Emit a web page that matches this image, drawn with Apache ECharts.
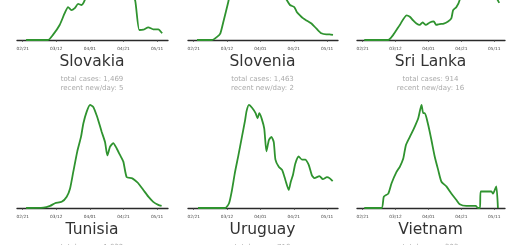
<!DOCTYPE html>
<html>
<head>
<meta charset="utf-8">
<script src="https://cdn.jsdelivr.net/npm/echarts@6/dist/echarts.min.js"></script>
<style>
html,body{margin:0;padding:0;background:#fff;}
#c{width:520px;height:245px;}
</style>
</head>
<body>
<div id="c"></div>
<script>
// x values are days after 02/21; y values are new cases per day as a fraction of each country's peak
const tickDays = [0, 20, 40, 60, 80];
const tickLabels = ['02/21', '03/12', '04/01', '04/21', '05/11'];
const countries = ['Slovakia', 'Slovenia', 'Sri Lanka', 'Tunisia', 'Uruguay', 'Vietnam'];
const totalCases = ['1,469', '1,463', '914', '1,032', '710', '323'];
const recentNewPerDay = ['5', '2', '16', '0', '4', '0'];

const slovakiaDays = [2,15,18,22,25,27,29,31,33,35,37,39,41,43,45,47,49,51,53,55,57,59,61,63,65,67,69.4,71.8,74.8,77.7,80.7,83];
const slovakiaVals = [0,0,0.05,0.146,0.26,0.32,0.29,0.31,0.35,0.34,0.39,0.5,0.7,0.85,0.95,1.0,0.92,0.85,0.8,0.72,0.65,0.6,0.55,0.5,0.45,0.38,0.097,0.10,0.123,0.104,0.104,0.065];

const sloveniaDays = [2,11,14,16,18,20,21,22,24,26,28,30,33,36,39,42,45,48,51,54,55.7,57.7,60.3,61.7,63.7,65.7,67.6,70.6,73.6,76.5,79.5,81.5,83.5];
const sloveniaVals = [0,0,0.03,0.065,0.19,0.32,0.39,0.5,0.75,0.9,1.0,0.97,0.9,0.85,0.8,0.72,0.65,0.58,0.5,0.43,0.39,0.34,0.32,0.275,0.24,0.21,0.19,0.16,0.11,0.065,0.055,0.055,0.05];

const sriLankaDays = [1,15.5,18.6,22.6,26.7,28.7,30.7,32.7,34.7,36.4,38.4,40.8,43.2,44.8,46.8,49.3,51.9,53.9,55,57,59,61,63,65,67,69,71,73,75,77,79,81,83];
const sriLankaVals = [0,0,0.05,0.146,0.24,0.226,0.19,0.16,0.146,0.17,0.146,0.17,0.18,0.146,0.155,0.16,0.18,0.21,0.29,0.32,0.39,0.6,0.85,1.0,0.95,0.85,0.8,0.7,0.65,0.6,0.5,0.42,0.36];

const tunisiaDays = [2,12.3,16.3,19.2,23.2,26.2,28.2,30.1,32.5,34.7,36.1,38.1,40.1,42,44,45,47,49,50.4,52,53.9,55.9,57.9,59.9,61.9,64.9,66.8,68.8,71.8,74.8,77.7,80.7,82.7];
const tunisiaVals = [0,0.003,0.02,0.046,0.06,0.11,0.19,0.35,0.55,0.69,0.82,0.935,1.0,0.98,0.90,0.85,0.74,0.64,0.51,0.595,0.63,0.58,0.515,0.45,0.30,0.29,0.27,0.24,0.175,0.11,0.06,0.03,0.02];

const uruguayDays = [2.6,18.9,21.2,22.8,24.8,26.8,28.8,30.8,31.7,33.1,35.1,37.1,38.3,39.3,40.7,42.3,43.6,45.1,46.6,48,49,51,53,55,57,58.2,59.5,60.9,62.9,64.9,66.8,68.9,70.8,72.4,75.4,77.4,79.9,81.4,83.3];
const uruguayVals = [0,0,0.046,0.16,0.35,0.51,0.68,0.85,0.94,1.0,0.97,0.92,0.87,0.92,0.87,0.77,0.55,0.66,0.69,0.64,0.47,0.40,0.37,0.27,0.175,0.255,0.32,0.43,0.50,0.47,0.47,0.42,0.32,0.29,0.31,0.28,0.30,0.29,0.26];

const vietnamDays = [1,11.5,12.9,15.6,17.6,20.6,22.6,24.7,26.3,28.7,31.7,33.8,35.8,36.8,37.8,39.8,41.8,43.8,45.9,47.9,50.9,53.9,57,59,63,68.7,70.1,71.3,71.7,78.2,79.2,81.2,82.2];
const vietnamVals = [0,0,0.11,0.14,0.24,0.35,0.40,0.48,0.61,0.69,0.79,0.87,1.0,0.92,0.92,0.81,0.66,0.50,0.37,0.255,0.21,0.14,0.078,0.036,0.02,0.02,0,0,0.16,0.16,0.14,0.21,0];

const seriesDays = [slovakiaDays, sloveniaDays, sriLankaDays, tunisiaDays, uruguayDays, vietnamDays];
const seriesVals = [slovakiaVals, sloveniaVals, sriLankaVals, tunisiaVals, uruguayVals, vietnamVals];

const colLeft = [17, 188, 357];
const colWidth = [151, 150, 148];
// top row: only the lower part of each panel is inside the window
const rowTop = [0, 99.8];
const rowHeight = [45, 113.2];
const rowYMax = [0.3883, 1.05];
const rowShift = 168;
const FONT = 'DejaVu Sans';

const grids = [], xAxes = [], yAxes = [], series = [], graphics = [];
for (let i = 0; i < 6; i++) {
  const c = i % 3, r = Math.floor(i / 3);
  grids.push({left: colLeft[c], top: rowTop[r], width: colWidth[c], height: rowHeight[r]});
  xAxes.push({
    gridIndex: i, type: 'value', min: -3.4, max: 86.5,
    axisLine: {show: true, lineStyle: {color: '#2a2a2a', width: 1.3}},
    axisTick: {show: true, length: 2, customValues: tickDays, lineStyle: {color: '#444', width: 0.7}},
    axisLabel: {customValues: tickDays, fontSize: 4.3, color: '#444', margin: 1.5, fontFamily: FONT,
      formatter: v => tickLabels[tickDays.indexOf(v)]},
    splitLine: {show: false}
  });
  yAxes.push({gridIndex: i, type: 'value', min: -0.0485, max: rowYMax[r], show: false, splitLine: {show: false}});
  series.push({
    type: 'line', xAxisIndex: i, yAxisIndex: i, symbol: 'none', smooth: 0.2, clip: true,
    lineStyle: {color: '#2f932f', width: 1.8},
    data: seriesDays[i].map((d, k) => [d, seriesVals[i][k]])
  });
  const cx = colLeft[c] + colWidth[c] / 2 - 0.5;
  const ty = 62 + r * rowShift;
  graphics.push({type: 'text', x: cx, y: ty, style: {text: countries[i], fill: '#333', font: '15.5px "DejaVu Sans"', align: 'center', verticalAlign: 'middle'}});
  graphics.push({type: 'text', x: cx, y: ty + 17, style: {text: 'total cases: ' + totalCases[i], fill: '#aaa', font: '7px "DejaVu Sans"', align: 'center', verticalAlign: 'middle'}});
  graphics.push({type: 'text', x: cx, y: ty + 25.7, style: {text: 'recent new/day: ' + recentNewPerDay[i], fill: '#aaa', font: '7px "DejaVu Sans"', align: 'center', verticalAlign: 'middle'}});
}

const chart = echarts.init(document.getElementById('c'), null, {renderer: 'canvas'});
chart.setOption({
  animation: false,
  backgroundColor: '#fff',
  grid: grids, xAxis: xAxes, yAxis: yAxes, series: series,
  graphic: graphics
});
</script>
</body>
</html>
